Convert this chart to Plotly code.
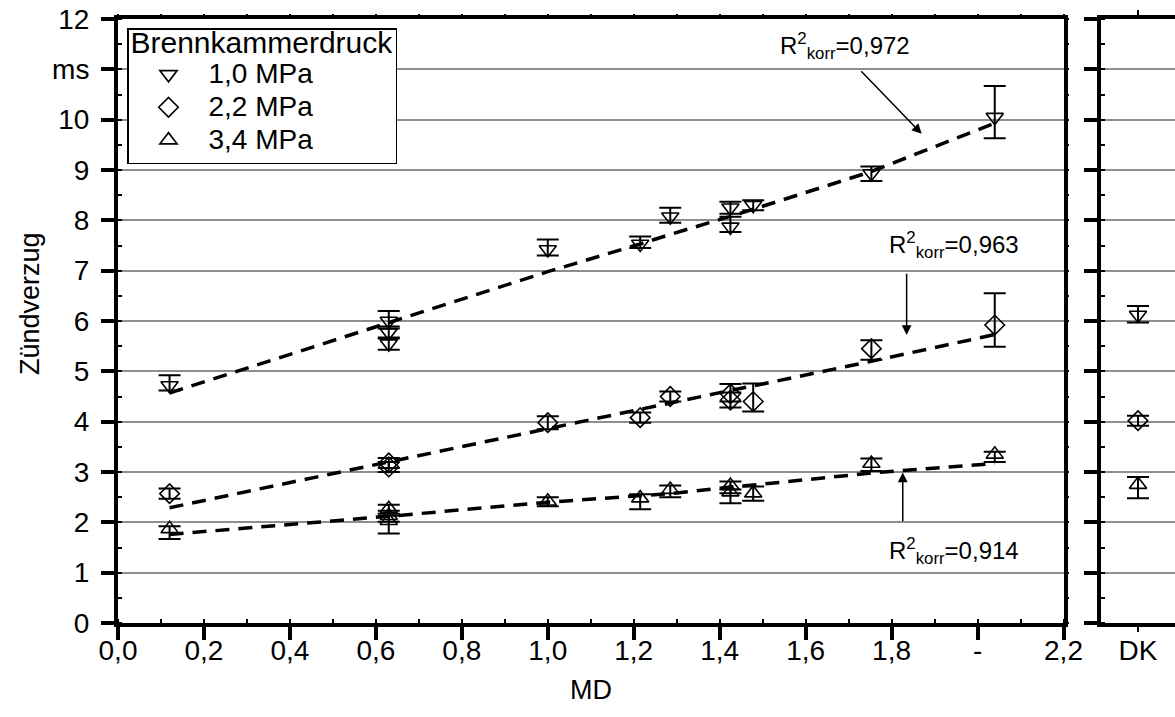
import plotly.graph_objects as go

# ---------------- data ----------------
md_10 = [0.12, 0.63, 0.63, 0.63, 1.0, 1.215, 1.285, 1.425, 1.425, 1.478, 1.753, 2.04]
t_10 = [4.72, 6.0, 5.77, 5.55, 7.42, 7.53, 8.07, 8.25, 7.87, 8.3, 8.93, 10.05]
ep_10 = [0.2, 0.2, 0.12, 0.1, 0.2, 0.15, 0.18, 0.12, 0.2, 0.1, 0.14, 0.62]
em_10 = [0.1, 0.15, 0.1, 0.12, 0.12, 0.08, 0.12, 0.12, 0.1, 0.1, 0.15, 0.42]

md_22 = [0.12, 0.63, 0.63, 1.0, 1.215, 1.285, 1.425, 1.425, 1.478, 1.753, 2.04]
t_22 = [2.57, 3.18, 3.1, 3.98, 4.08, 4.5, 4.55, 4.43, 4.4, 5.45, 5.92]
ep_22 = [0.1, 0.1, 0.1, 0.13, 0.1, 0.1, 0.2, 0.15, 0.36, 0.17, 0.63]
em_22 = [0.1, 0.1, 0.1, 0.13, 0.1, 0.1, 0.15, 0.15, 0.2, 0.22, 0.43]

md_34 = [0.12, 0.63, 0.63, 0.63, 1.0, 1.215, 1.285, 1.425, 1.425, 1.478, 1.753, 2.04]
t_34 = [1.87, 2.27, 2.13, 2.03, 2.42, 2.48, 2.65, 2.73, 2.6, 2.58, 3.17, 3.35]
ep_34 = [0.05, 0.08, 0.1, 0.1, 0.08, 0.08, 0.08, 0.08, 0.05, 0.13, 0.1, 0.05]
em_34 = [0.2, 0.1, 0.12, 0.25, 0.1, 0.22, 0.15, 0.15, 0.22, 0.15, 0.15, 0.15]

# DK reference values (right panel)
dk_t = [6.12, 4.02, 2.75]
dk_ep = [0.18, 0.1, 0.15]
dk_em = [0.15, 0.1, 0.27]

# fit curves
fit_md = [0.12, 0.63, 1.0, 1.215, 1.285, 1.425, 1.478, 1.753, 2.04]
fit_10 = [4.57, 5.97, 6.98, 7.53, 7.72, 8.08, 8.22, 8.97, 9.93]
fit_22 = [2.29, 3.2, 3.87, 4.26, 4.38, 4.62, 4.71, 5.2, 5.73]
fit_34 = [1.76, 2.12, 2.4, 2.53, 2.57, 2.7, 2.74, 2.98, 3.17]

series_names = ["1,0 MPa", "2,2 MPa", "3,4 MPa"]
symbols = ["triangle-down-open", "diamond-open", "triangle-up-open"]
r2_labels = ["0,972", "0,963", "0,914"]

x_tickvals = [0.0, 0.2, 0.4, 0.6, 0.8, 1.0, 1.2, 1.4, 1.6, 1.8, 2.0, 2.2]
x_ticktext = ["0,0", "0,2", "0,4", "0,6", "0,8", "1,0", "1,2", "1,4", "1,6", "1,8", "-", "2,2"]
y_tickvals = list(range(13))
y_ticktext = ["0", "1", "2", "3", "4", "5", "6", "7", "8", "9", "10", "ms", "12"]

FONT = "Liberation Sans, Arial, Helvetica, sans-serif"
W, H = 1175, 717
TXT = 28

fig = go.Figure()

groups = [(md_10, t_10, ep_10, em_10), (md_22, t_22, ep_22, em_22), (md_34, t_34, ep_34, em_34)]
for i, (xs, ys, ep, em) in enumerate(groups):
    fig.add_trace(go.Scatter(
        x=xs, y=ys, mode="markers",
        name='<span style="font-size:%dpx">%s</span>' % (TXT, series_names[i]),
        marker=dict(symbol=symbols[i], size=15, color="black", line=dict(width=1.6, color="black")),
        error_y=dict(type="data", symmetric=False, array=ep, arrayminus=em,
                     color="black", thickness=2, width=11),
        xaxis="x", yaxis="y", legendgroup=str(i)))

for fit in (fit_10, fit_22, fit_34):
    fig.add_trace(go.Scatter(
        x=fit_md, y=fit, mode="lines", showlegend=False,
        line=dict(color="black", width=3.5, dash="14px,9px"),
        xaxis="x", yaxis="y", hoverinfo="skip"))

for i in range(3):
    fig.add_trace(go.Scatter(
        x=[0], y=[dk_t[i]], mode="markers", showlegend=False,
        marker=dict(symbol=symbols[i], size=15, color="black", line=dict(width=1.6, color="black")),
        error_y=dict(type="data", symmetric=False, array=[dk_ep[i]], arrayminus=[dk_em[i]],
                     color="black", thickness=2, width=11),
        xaxis="x2", yaxis="y2"))

# dummy trace for the mirrored tick axes
fig.add_trace(go.Scatter(x=[None], y=[None], xaxis="x3", yaxis="y3", showlegend=False, hoverinfo="skip"))

x0 = 118 / W
x1 = 1063.5 / W
x2s = 1101 / W
yd = [(H - 623) / H, (H - 19) / H]

axis_common = dict(showline=True, linecolor="black", linewidth=4, zeroline=False, automargin=False,
                   tickfont=dict(size=TXT, color="black", family=FONT))
aux_common = dict(showticklabels=False, showline=False, showgrid=False, zeroline=False,
                  automargin=False, tickcolor="black")

fig.update_layout(
    template="none",
    width=W, height=H,
    margin=dict(l=0, r=0, t=0, b=0, pad=0),
    paper_bgcolor="white", plot_bgcolor="white",
    font=dict(family=FONT, color="black", size=TXT),
    xaxis=dict(domain=[x0, x1], anchor="y", range=[0, 2.2],
               tickmode="array", tickvals=x_tickvals, ticktext=x_ticktext,
               ticks="outside", ticklen=13, tickwidth=4, tickcolor="black",
               ticklabelstandoff=-14,
               minor=dict(ticks="inside", dtick=0.1, tick0=0, ticklen=4, tickwidth=2, tickcolor="black"),
               mirror=True, showgrid=False, **axis_common),
    yaxis=dict(domain=yd, anchor="x", range=[0, 12],
               tickmode="array", tickvals=y_tickvals, ticktext=y_ticktext,
               ticks="outside", ticklen=13, tickwidth=4, tickcolor="black",
               ticklabelstandoff=6,
               minor=dict(ticks="inside", dtick=0.5, tick0=0, ticklen=4, tickwidth=2, tickcolor="black"),
               mirror=True, showgrid=True, gridcolor="#8e8e8e", gridwidth=1.5, **axis_common),
    xaxis2=dict(domain=[x2s, 1.0], anchor="y2", range=[-0.5, 0.5],
                tickmode="array", tickvals=[0], ticktext=["DK"],
                ticks="outside", ticklen=5, tickwidth=2, tickcolor="black",
                ticklabelstandoff=-6,
                mirror="ticks", showgrid=False, **axis_common),
    yaxis2=dict(domain=yd, anchor="x2", range=[0, 12],
                tickmode="array", tickvals=y_tickvals, showticklabels=False,
                ticks="outside", ticklen=13, tickwidth=4, tickcolor="black",
                minor=dict(ticks="inside", dtick=0.5, tick0=0, ticklen=4, tickwidth=2, tickcolor="black"),
                showgrid=True, gridcolor="#8e8e8e", gridwidth=1.5, **axis_common),
    xaxis3=dict(overlaying="x", side="top", anchor="y", range=[0, 2.2],
                tickmode="linear", tick0=0, dtick=0.1, ticks="outside", ticklen=4, tickwidth=2,
                **aux_common),
    yaxis3=dict(overlaying="y", side="right", anchor="x", range=[0, 12],
                tickmode="linear", tick0=0, dtick=0.5, ticks="outside", ticklen=4, tickwidth=2,
                **aux_common),
    legend=dict(x=127 / W, y=1 - 28 / H, xanchor="left", yanchor="top",
                bgcolor="white", bordercolor="black", borderwidth=1.5,
                font=dict(size=23, family=FONT, color="black"),
                title=dict(text='<span style="font-size:30px">Brennkammerdruck</span>',
                           font=dict(size=18, family=FONT, color="black")),
                itemwidth=70, tracegroupgap=0),
    showlegend=True,
)

# axis titles
fig.add_annotation(text="MD", xref="paper", yref="paper", x=590.5 / W, y=(H - 690) / H,
                   showarrow=False, font=dict(size=27), xanchor="center", yanchor="middle")
fig.add_annotation(text="Zündverzug", xref="paper", yref="paper", x=30 / W, y=(H - 304) / H,
                   showarrow=False, font=dict(size=27), textangle=-90, xanchor="center", yanchor="middle")

# R^2 labels
r2_pos = [(1.535, 11.46), (1.79, 7.51), (1.79, 1.43)]
for lab, (tx, ty) in zip(r2_labels, r2_pos):
    fig.add_annotation(text="R<sup>2</sup><sub>korr</sub>=" + lab, xref="x", yref="y",
                       x=tx, y=ty, showarrow=False, xanchor="left", yanchor="middle",
                       font=dict(size=24))

# arrows (head, tail)
arrows = [((1.87, 9.72), (1.726, 10.99)), ((1.835, 5.72), (1.835, 6.97)), ((1.826, 2.99), (1.826, 1.99))]
for (hx, hy), (tx, ty) in arrows:
    fig.add_annotation(x=hx, y=hy, ax=tx, ay=ty, xref="x", yref="y", axref="x", ayref="y",
                       text="", showarrow=True, arrowhead=2, arrowsize=1.3, arrowwidth=1.5,
                       arrowcolor="black")

fig.write_html("out.html")
